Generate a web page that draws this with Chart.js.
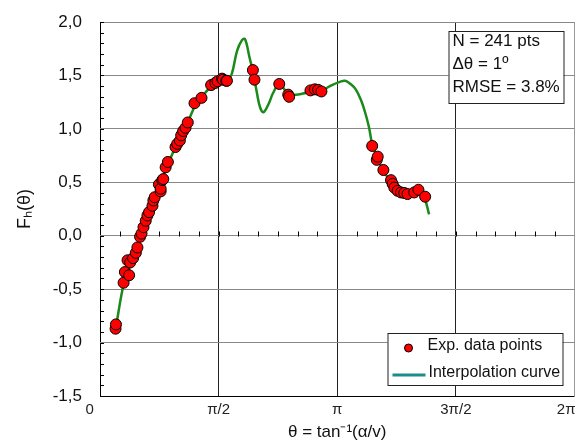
<!DOCTYPE html>
<html>
<head>
<meta charset="utf-8">
<script src="https://cdn.jsdelivr.net/npm/chart.js@4"></script>
<style>
  body { margin: 0; background: #fff; }
  #wrap { width: 581px; height: 443px; }
</style>
</head>
<body>
<div id="wrap"><canvas id="myChart"></canvas></div>
<script>
    // data (theta in degrees)
    const ptTheta = [11.8, 12.1, 17.9, 18.9, 20.9, 22.1, 22.9, 25.1, 27.2, 28.4, 30.4, 31.5, 33, 34.7, 36, 37.2,
      39.8, 40.5, 41.5, 44.7, 46, 46, 47.3, 48, 49.8, 51.5, 57.3, 58.6, 60.6, 61.6, 63.1, 64.9, 66.6, 71.7, 77,
      84.3, 87.5, 89.2, 92.6, 93.3, 95.8, 96.3, 116, 117.2, 136, 142.8, 143.5, 159.7, 163, 165.5, 168,
      206.5, 210, 210.7, 215, 220.8, 222, 223.3, 225.8, 228.4, 230.8, 233.3, 238.4, 241.6, 246.7];
    const ptF = [-0.87, -0.83, -0.44, -0.34, -0.23, -0.37, -0.25, -0.21, -0.16, -0.11, -0.01, 0.02, 0.08, 0.14, 0.19, 0.22,
      0.28, 0.33, 0.36, 0.48, 0.415, 0.44, 0.52, 0.53, 0.64, 0.69, 0.83, 0.86, 0.89, 0.94, 0.98, 1.01, 1.06, 1.24, 1.29,
      1.41, 1.43, 1.445, 1.47, 1.46, 1.45, 1.45, 1.55, 1.46, 1.42, 1.32, 1.30, 1.36, 1.37, 1.365, 1.35,
      0.84, 0.71, 0.74, 0.615, 0.52, 0.485, 0.45, 0.42, 0.405, 0.40, 0.39, 0.405, 0.43, 0.365];

    const curveTheta = [12, 18, 22, 26, 30, 34, 38, 42, 46, 50, 54, 58, 62, 66, 70, 74, 78, 82, 86, 90, 94, 97,
      100, 104, 107.7, 110, 113.4, 116.4, 119, 121.5, 124, 127.8, 131.5, 136, 142, 148, 154, 160, 166, 170, 176,
      182, 186, 190, 194, 198, 201, 204, 206.5, 210, 214, 218, 222, 226, 230, 234, 238, 242, 246, 249.7];
    const curveF = [-0.86, -0.45, -0.31, -0.19, -0.03, 0.12, 0.26, 0.39, 0.49, 0.62, 0.74, 0.85, 0.94, 1.04, 1.16, 1.26,
      1.31, 1.37, 1.42, 1.45, 1.46, 1.46,
      1.515, 1.73, 1.83, 1.84, 1.67, 1.515, 1.34, 1.20, 1.155, 1.23, 1.34, 1.42, 1.34, 1.32, 1.33, 1.35, 1.36, 1.37, 1.41,
      1.44, 1.45, 1.42, 1.37, 1.27, 1.16, 1.02, 0.86, 0.74, 0.63, 0.55, 0.47, 0.42, 0.40, 0.39, 0.405, 0.42, 0.36, 0.20];

    const xTickValues = [0, 90, 180, 270, 360];
    // the end labels sit a bit inward in the original, hence the padding spaces
    const xTickLabels = ['0     ', 'π/2', 'π', '3π/2', '2π    '];
    const infoLines = ['N = 241 pts', 'Δθ = 1º', 'RMSE = 3.8%'];
    const legendLabels = ['Exp. data points', 'Interpolation curve'];

    const FONT = "'Liberation Sans', Arial, sans-serif";

    // minor ticks + text boxes
    const decor = {
      id: 'decor',
      beforeDatasetsDraw(chart) {
        const {ctx, chartArea: a, scales: {x, y}} = chart;
        ctx.save();
        ctx.strokeStyle = '#000';
        ctx.lineWidth = 1;
        ctx.beginPath();
        for (let v = -15; v <= 20; v++) {
          const py = Math.round(y.getPixelForValue(v / 10)) + 0.5;
          ctx.moveTo(a.left, py); ctx.lineTo(a.left + 4, py);
        }
        const y0 = Math.round(y.getPixelForValue(0)) + 0.5;
        for (let d = 15; d < 360; d += 15) {
          const px = Math.round(x.getPixelForValue(d)) + 0.5;
          ctx.moveTo(px, y0); ctx.lineTo(px, y0 - 5);
        }
        ctx.stroke();
        ctx.restore();
      },
      afterDraw(chart) {
        const {ctx, chartArea: a} = chart;
        ctx.save();
        ctx.font = '17px ' + FONT;
        ctx.textBaseline = 'middle';
        // info box
        let bx = a.right - 126, by = a.top + 9;
        ctx.fillStyle = '#fff';
        ctx.fillRect(bx, by, 115, 72);
        ctx.strokeStyle = '#222';
        ctx.lineWidth = 1;
        ctx.strokeRect(bx + 0.5, by + 0.5, 115, 72);
        ctx.fillStyle = '#111';
        infoLines.forEach((t, i) => ctx.fillText(t, bx + 4, by + 10 + i * 23));
        // legend box
        bx = a.right - 187; by = a.bottom - 63;
        ctx.fillStyle = '#fff';
        ctx.fillRect(bx, by, 175, 52);
        ctx.strokeRect(bx + 0.5, by + 0.5, 175, 52);
        ctx.font = '16px ' + FONT;
        ctx.beginPath();
        ctx.arc(bx + 21, by + 15, 4, 0, Math.PI * 2);
        ctx.fillStyle = '#ff0000';
        ctx.fill();
        ctx.strokeStyle = '#000';
        ctx.stroke();
        ctx.strokeStyle = '#1f8c8c';
        ctx.lineWidth = 3;
        ctx.beginPath();
        ctx.moveTo(bx + 5, by + 42); ctx.lineTo(bx + 38, by + 42);
        ctx.stroke();
        ctx.fillStyle = '#111';
        ctx.fillText(legendLabels[0], bx + 40, by + 13);
        ctx.fillText(legendLabels[1], bx + 41, by + 40);
        ctx.restore();
      }
    };

    const data = {
      datasets: [{
        label: legendLabels[0],
        data: ptTheta.map((t, i) => ({x: t, y: ptF[i]})),
        backgroundColor: '#ff0000',
        borderColor: '#000',
        borderWidth: 1,
        pointRadius: 5.5,
        showLine: false,
        order: 0
      }, {
        label: legendLabels[1],
        type: 'line',
        data: curveTheta.map((t, i) => ({x: t, y: curveF[i]})),
        borderColor: '#1a8a1a',
        borderWidth: 2.5,
        pointRadius: 0,
        tension: 0.4,
        fill: false,
        order: 1
      }]
    };

    const config = {
      type: 'scatter',
      data,
      plugins: [decor],
      options: {
        responsive: true,
        maintainAspectRatio: false,
        animation: false,
        layout: { padding: { top: 22, right: 5, left: 0, bottom: 0 } },
        plugins: { legend: { display: false }, tooltip: { enabled: false } },
        scales: {
          x: {
            type: 'linear',
            min: 0,
            max: 360,
            afterFit: s => { s.height = 47; s.paddingLeft = 0; s.paddingRight = 0; },
            afterBuildTicks: s => { s.ticks = xTickValues.map(v => ({value: v})); },
            ticks: {
              padding: 5,
              color: '#222',
              font: { family: FONT, size: 15 },
              maxRotation: 0,
              callback: v => xTickLabels[xTickValues.indexOf(v)]
            },
            grid: {
              drawTicks: false,
              lineWidth: 1,
              color: c => c.tick && c.tick.value === 0 ? '#000' : (c.tick && c.tick.value === 360 ? '#999' : '#222')
            },
            border: { display: false },
            title: {
              display: true,
              text: 'θ = tan⁻¹(α/v)',
              color: '#111',
              font: { family: FONT, size: 17 },
              padding: { top: 0, bottom: 0 }
            }
          },
          y: {
            min: -1.5,
            max: 2,
            afterFit: s => { s.width = 100; s.paddingTop = 0; s.paddingBottom = 0; },
            ticks: {
              stepSize: 0.5,
              padding: 18,
              color: '#111',
              font: { family: FONT, size: 17 },
              callback: v => v.toFixed(1).replace('.', ',')
            },
            grid: {
              drawTicks: false,
              lineWidth: 1,
              color: c => c.tick && c.tick.value === -1.5 ? '#000' : '#888'
            },
            border: { display: false },
            title: {
              display: true,
              text: 'Fₕ(θ)',
              color: '#111',
              font: { family: FONT, size: 18 },
              padding: { top: 14, bottom: 0 }
            }
          }
        }
      }
    };

    const myChart = new Chart(document.getElementById('myChart'), config);
</script>
</body>
</html>
